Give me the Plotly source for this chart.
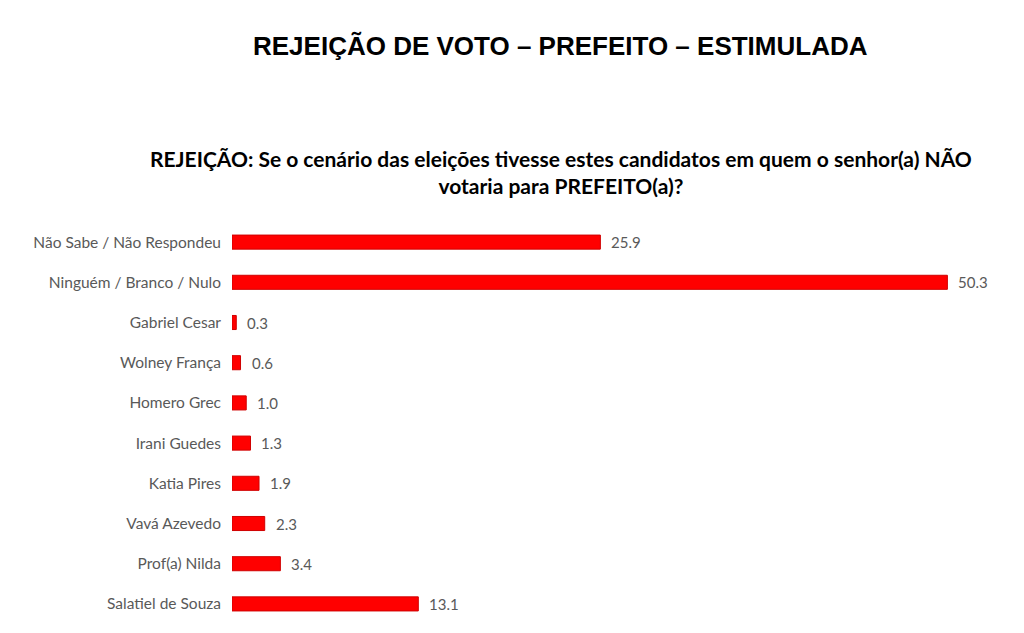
import plotly.graph_objects as go

candidatos = ['Não Sabe / Não Respondeu', 'Ninguém / Branco / Nulo', 'Gabriel Cesar',
              'Wolney França', 'Homero Grec', 'Irani Guedes', 'Katia Pires',
              'Vavá Azevedo', 'Prof(a) Nilda', 'Salatiel de Souza']
rejeicao = [25.9, 50.3, 0.3, 0.6, 1.0, 1.3, 1.9, 2.3, 3.4, 13.1]

titulo = 'REJEIÇÃO DE VOTO – PREFEITO – ESTIMULADA'
pergunta = ('REJEIÇÃO: Se o cenário das eleições tivesse estes candidatos em quem o senhor(a) NÃO<br>'
            'votaria para PREFEITO(a)?')

fig = go.Figure(go.Bar(
    x=rejeicao,
    y=candidatos,
    orientation='h',
    marker=dict(color='#FF0000', line=dict(color='#D00000', width=1)),
))

# rótulos de valor à direita de cada barra
for c, v in zip(candidatos, rejeicao):
    fig.add_annotation(x=v, y=c, text=f'{v:.1f}', showarrow=False,
                       xanchor='left', xshift=9,
                       font=dict(family='Lato', size=15, color='#595959'))

# títulos (coordenadas paper relativas à área do gráfico)
fig.add_annotation(text='<b>' + titulo + '</b>', xref='paper', yref='paper',
                   x=0.428, y=1.437, showarrow=False,
                   xanchor='center', yanchor='middle',
                   font=dict(family='Liberation Sans', size=26, color='#000000'))
fig.add_annotation(text='<b>' + pergunta + '</b>', xref='paper', yref='paper',
                   x=0.428, y=1.125, showarrow=False,
                   xanchor='center', yanchor='middle', align='center',
                   font=dict(family='Lato', size=21, color='#000000'))

fig.update_layout(
    width=1024, height=633,
    margin=dict(l=224, r=32, t=214, b=17),
    paper_bgcolor='white', plot_bgcolor='white',
    bargap=0.65,
    showlegend=False,
    xaxis=dict(range=[0, 54], visible=False),
    yaxis=dict(autorange='reversed', showgrid=False, showline=False, ticks='',
               ticklabelstandoff=10,
               tickfont=dict(family='Lato', size=15.5, color='#595959')),
)

fig.write_html('out.html')
